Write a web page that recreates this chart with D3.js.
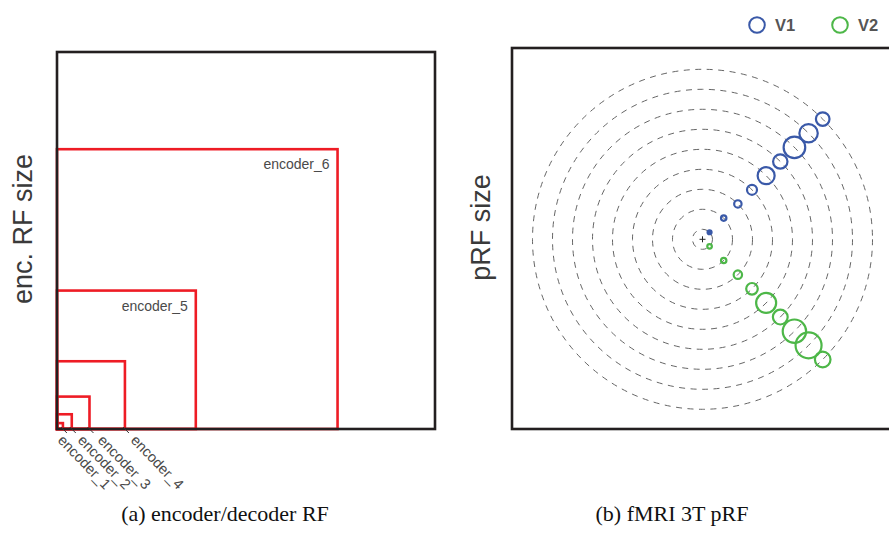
<!DOCTYPE html>
<html>
<head>
<meta charset="utf-8">
<script src="https://cdn.jsdelivr.net/npm/d3@7"></script>
<style>
  html, body { margin: 0; padding: 0; background: #fff; }
  svg { display: block; }
</style>
</head>
<body>
<svg id="chart" width="889" height="533"></svg>
<script>
// ---- data ----
const encLabels = ["encoder_1", "encoder_2", "encoder_3", "encoder_4", "encoder_5", "encoder_6"];
const encRF = [4, 10, 22, 46, 94, 190];          // RF size (input px)
const encDomain = [0, 256];                       // input image size

const eccRings = [0.5, 1.5, 2.5, 3.5, 4.5, 5.5, 6.5, 7.5, 8.5];   // deg
const v1Ecc  = [0.5, 1.5, 2.5, 3.5, 4.5, 5.5, 6.5, 7.5, 8.5];
const v1Size = [0.10, 0.135, 0.185, 0.25, 0.425, 0.36, 0.54, 0.46, 0.34];
const v2Ecc  = [0.5, 1.5, 2.5, 3.5, 4.5, 5.5, 6.5, 7.5, 8.5];
const v2Size = [0.115, 0.135, 0.21, 0.29, 0.50, 0.37, 0.585, 0.65, 0.39];
const areaNames = ["V1", "V2"];
const areaAngles = [45, -45];                     // polar angle, deg
const areaColors = ["#3a59a8", "#4db748"];

const svg = d3.select("#chart");
const sans = "'Liberation Sans', Arial, Helvetica, sans-serif";
const serif = "'Liberation Serif', 'Times New Roman', serif";

// ---- left panel ----
const L = {x0: 57, x1: 435, y0: 52, y1: 429};
const xL = d3.scaleLinear().domain(encDomain).range([L.x0, L.x1]);
const yL = d3.scaleLinear().domain(encDomain).range([L.y1, L.y0]);
const gL = svg.append("g");

gL.selectAll("rect.rf").data(encRF).join("rect")
  .attr("class", "rf")
  .attr("x", xL(0)).attr("y", d => yL(d))
  .attr("width", d => xL(d) - xL(0)).attr("height", d => yL(0) - yL(d))
  .attr("fill", "none").attr("stroke", "#ee1c25").attr("stroke-width", 2.6);

gL.append("rect")
  .attr("x", L.x0).attr("y", L.y0).attr("width", L.x1 - L.x0).attr("height", L.y1 - L.y0)
  .attr("fill", "none").attr("stroke", "#231f20").attr("stroke-width", 2.6);

// inner labels for big RFs
encRF.forEach((s, i) => {
  if (s > 60) {
    gL.append("text")
      .attr("x", xL(s) - 8).attr("y", yL(s) + 20)
      .attr("text-anchor", "end")
      .attr("font-family", sans).attr("font-size", 14).attr("fill", "#4a4a4a")
      .text(encLabels[i]);
  }
});

// rotated labels for small RFs
let prevStart = null;
encRF.forEach((s, i) => {
  if (s <= 60) {
    const xe = xL(s);
    let start = prevStart === null ? xe - 6 : Math.max(xe + 5, prevStart + 20);
    prevStart = start;
    gL.append("line")
      .attr("x1", xe - 2).attr("y1", L.y1 - 2).attr("x2", xe + 4).attr("y2", L.y1 + 4)
      .attr("stroke", "#333").attr("stroke-width", 1);
    gL.append("text")
      .attr("transform", `translate(${start},${L.y1 + 12}) rotate(46)`)
      .attr("font-family", sans).attr("font-size", 14.5).attr("fill", "#4a4a4a")
      .text(encLabels[i]);
  }
});

gL.append("text")
  .attr("transform", `translate(32,229) rotate(-90)`)
  .attr("text-anchor", "middle")
  .attr("font-family", sans).attr("font-size", 27).attr("fill", "#3a3a3a")
  .text("enc. RF size");

svg.append("text")
  .attr("x", 225).attr("y", 521).attr("text-anchor", "middle")
  .attr("font-family", serif).attr("font-size", 22).attr("fill", "#111")
  .text("(a) encoder/decoder RF");

// ---- right panel ----
const R = {x0: 512, x1: 893, y0: 48, y1: 429};
const cx0 = (R.x0 + R.x1) / 2, cy0 = (R.y0 + R.y1) / 2 + 0.8;
const rS = d3.scaleLinear().domain([0, 8.5]).range([0, 170]);
const gR = svg.append("g");

gR.append("rect")
  .attr("x", R.x0).attr("y", R.y0).attr("width", R.x1 - R.x0).attr("height", R.y1 - R.y0)
  .attr("fill", "none").attr("stroke", "#231f20").attr("stroke-width", 2.6);

gR.selectAll("circle.ring").data(eccRings).join("circle")
  .attr("class", "ring")
  .attr("cx", cx0).attr("cy", cy0).attr("r", d => rS(d))
  .attr("fill", "none").attr("stroke", "#666").attr("stroke-width", 1)
  .attr("stroke-dasharray", "6,5.5");

// fixation cross
gR.append("path")
  .attr("d", `M${cx0 - 3},${cy0}H${cx0 + 3}M${cx0},${cy0 - 3}V${cy0 + 3}`)
  .attr("stroke", "#222").attr("stroke-width", 1);

const areas = [
  {ecc: v1Ecc, size: v1Size},
  {ecc: v2Ecc, size: v2Size}
];
areas.forEach((a, k) => {
  const ang = areaAngles[k] * Math.PI / 180;
  const pts = a.ecc.map((e, i) => ({e, s: a.size[i]}));
  gR.selectAll(null).data(pts).join("circle")
    .attr("cx", d => cx0 + rS(d.e) * Math.cos(ang))
    .attr("cy", d => cy0 - rS(d.e) * Math.sin(ang))
    .attr("r", d => rS(d.s))
    .attr("fill", (d, i) => (i === 0 && k === 0) ? areaColors[k] : "none")
    .attr("stroke", areaColors[k]).attr("stroke-width", 2.2);
});

// legend
const legX = [757, 840];
areaNames.forEach((n, k) => {
  svg.append("circle").attr("cx", legX[k]).attr("cy", 25).attr("r", 7.8)
    .attr("fill", "none").attr("stroke", areaColors[k]).attr("stroke-width", 2);
  svg.append("text").attr("x", legX[k] + 18).attr("y", 31)
    .attr("font-family", sans).attr("font-size", 16.5).attr("font-weight", "bold")
    .attr("fill", "#555").text(n);
});

gR.append("text")
  .attr("transform", `translate(490,${(R.y0 + R.y1) / 2 - 11}) rotate(-90)`)
  .attr("text-anchor", "middle")
  .attr("font-family", sans).attr("font-size", 27).attr("fill", "#3a3a3a")
  .text("pRF size");

svg.append("text")
  .attr("x", 672).attr("y", 521).attr("text-anchor", "middle")
  .attr("font-family", serif).attr("font-size", 22).attr("fill", "#111")
  .text("(b) fMRI 3T pRF");
</script>
</body>
</html>
